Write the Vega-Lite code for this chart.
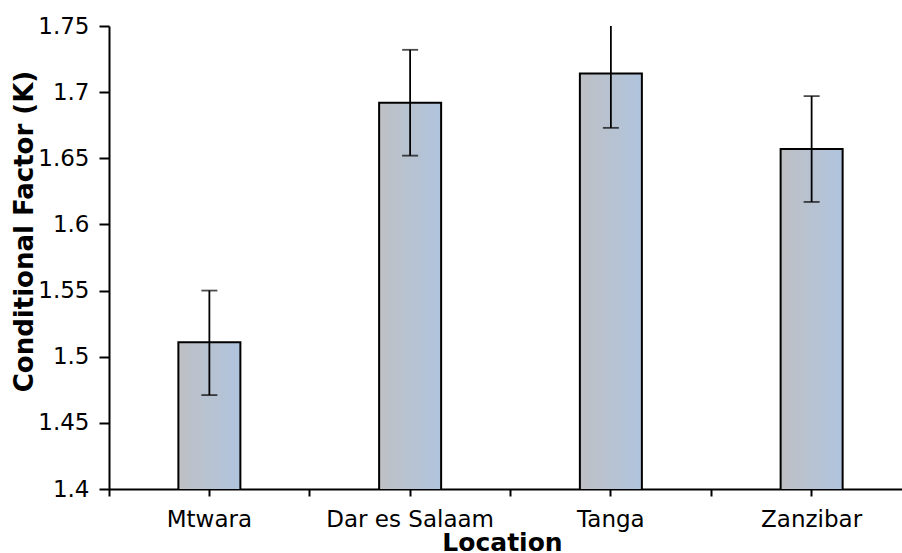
{
  "$schema": "https://vega.github.io/schema/vega-lite/v6.json",
  "autosize": {"type": "none"},
  "width": 793,
  "height": 463,
  "padding": {"left": 109, "top": 26, "right": 0, "bottom": 64},
  "background": "white",
  "config": {"view": {"stroke": null}, "font": "DejaVu Sans"},
  "data": {"values": [
    {"Location": "Mtwara", "K": 1.511, "lo": 1.471, "hi": 1.550},
    {"Location": "Dar es Salaam", "K": 1.692, "lo": 1.652, "hi": 1.732},
    {"Location": "Tanga", "K": 1.714, "lo": 1.673, "hi": 1.755},
    {"Location": "Zanzibar", "K": 1.657, "lo": 1.617, "hi": 1.697}
  ]},
  "resolve": {"axis": {"x": "independent"}},
  "layer": [
    {
      "mark": {
        "type": "bar",
        "size": 62,
        "stroke": "black",
        "strokeWidth": 2,
        "clip": true,
        "color": {
          "gradient": "linear", "x1": 0, "x2": 1, "y1": 0, "y2": 0,
          "stops": [{"offset": 0, "color": "#bec0c4"}, {"offset": 1, "color": "#b0c4de"}]
        }
      },
      "encoding": {
        "x": {
          "field": "Location", "type": "nominal", "sort": null,
          "scale": {"range": [0, 803], "paddingInner": 0, "paddingOuter": 0},
          "axis": {
            "orient": "bottom",
            "title": "Location",
            "titleFont": "DejaVu Sans", "titleFontSize": 25, "titleFontWeight": "bold", "titleColor": "black",
            "titleX": 393, "titleY": 61, "titleBaseline": "alphabetic",
            "labelAngle": 0, "labelFont": "DejaVu Sans", "labelFontSize": 23, "labelColor": "black",
            "labelBaseline": "alphabetic", "labelPadding": 30,
            "tickSize": 7, "tickWidth": 2, "tickColor": "black",
            "domainColor": "black", "domainWidth": 2, "grid": false
          }
        },
        "y": {
          "field": "K", "type": "quantitative",
          "scale": {"domain": [1.4, 1.75], "zero": false, "nice": false},
          "axis": {
            "title": "Conditional Factor (K)",
            "titleFont": "DejaVu Sans", "titleFontSize": 26, "titleFontWeight": "bold", "titleColor": "black",
            "titleX": -77, "titleY": 205, "titleBaseline": "alphabetic", "titleAngle": -90,
            "values": [1.4, 1.45, 1.5, 1.55, 1.6, 1.65, 1.7, 1.75],
            "format": "~g",
            "labelFont": "DejaVu Sans", "labelFontSize": 23, "labelColor": "black", "labelPadding": 10,
            "tickSize": 10, "tickWidth": 2, "tickColor": "black",
            "domainColor": "black", "domainWidth": 2, "grid": false
          }
        }
      }
    },
    {
      "mark": {"type": "rule", "color": "black", "strokeWidth": 1.8, "clip": true},
      "encoding": {
        "x": {"field": "Location", "type": "nominal", "sort": null,
          "axis": {"orient": "bottom", "bandPosition": 0, "labels": false, "domain": false, "title": null,
            "tickSize": 7, "tickWidth": 2, "tickColor": "black", "grid": false}},
        "y": {"field": "lo", "type": "quantitative"},
        "y2": {"field": "hi"}
      }
    },
    {
      "mark": {"type": "tick", "color": "black", "size": 16, "thickness": 1.8, "clip": true},
      "encoding": {
        "x": {"field": "Location", "type": "nominal", "sort": null, "axis": null},
        "y": {"field": "hi", "type": "quantitative"}
      }
    },
    {
      "mark": {"type": "tick", "color": "black", "size": 16, "thickness": 1.8, "clip": true},
      "encoding": {
        "x": {"field": "Location", "type": "nominal", "sort": null, "axis": null},
        "y": {"field": "lo", "type": "quantitative"}
      }
    }
  ]
}
